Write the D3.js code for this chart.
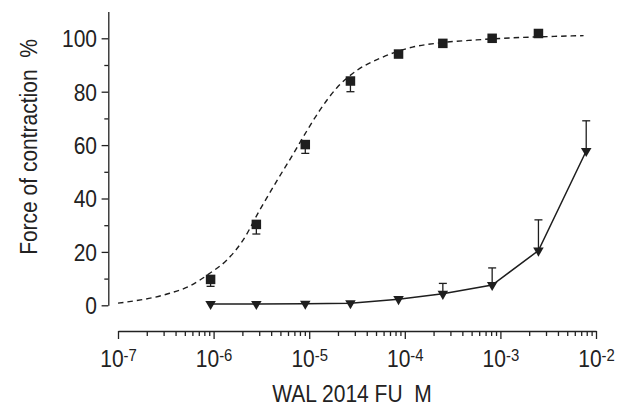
<!DOCTYPE html>
<meta charset="utf-8">
<style>
  body { margin: 0; background: #fff; }
  svg text { font-family: "Liberation Sans", Arial, Helvetica, sans-serif; fill: #222; white-space: pre; }
  .axis path, .axis line { stroke: #222; stroke-width: 1.3; fill: none; }
  .axis .tick text { font-size: 24px; }
</style>
<body>
<svg width="623" height="407"></svg>
<script src="https://d3js.org/d3.v7.min.js"></script>
<script>
  // concentrations (M)
  var conc = [9.3e-7, 2.8e-6, 9.1e-6, 2.7e-5, 8.6e-5, 2.5e-4, 8.2e-4, 2.5e-3, 7.9e-3];
  // squares (dashed fit)
  var squareMean = [9.7, 30.3, 60.2, 84.0, 94.1, 98.1, 100.0, 101.8];
  var squareErr = [2.6, 3.6, 3.3, 4.0, 0, 0, 0, 0];
  // triangles (solid line)
  var triMean = [0.5, 0.5, 0.6, 0.8, 2.3, 4.3, 7.6, 20.5, 57.8];
  var triErr = [0, 0, 0, 0, 0, 3.9, 6.4, 11.5, 11.3];
  // dashed fitted curve: log10 concentration / %
  var fitLogConc = [-7.0, -6.46, -6.25, -6.04, -5.86, -5.69, -5.52, -5.34, -5.17, -5.03, -4.89, -4.71, -4.50, -4.26, -3.92, -3.63, -3.25, -2.13];
  var fitValue = [0.8, 4.5, 7.2, 12.0, 17.0, 24.5, 35.5, 46.5, 56.5, 65.0, 73.0, 81.5, 88.0, 92.5, 96.7, 98.3, 99.4, 101.0];

  var yTicks = [0, 20, 40, 60, 80, 100];
  var yMinorTicks = [10, 30, 50, 70, 90];
  var xTicks = [1e-7, 1e-6, 1e-5, 1e-4, 1e-3, 1e-2];

  var svg = d3.select("svg");
  var ink = "#1e1e1e";

  var x = d3.scaleLog().domain([1e-7, 1e-2]).range([118, 596]);
  var y = d3.scaleLinear().domain([0, 110]).range([305.3, 11.6]);
  var xAxisY = 331;
  var yAxisX = 108.3;

  // y axis
  var gy = svg.append("g").attr("class", "axis")
    .attr("transform", "translate(" + yAxisX + ",0)");
  gy.call(d3.axisLeft(y).tickValues(yTicks).tickSize(6.7).tickSizeOuter(0));
  gy.attr("font-size", null).attr("font-family", null);
  gy.selectAll(".tick text")
    .attr("x", 0).attr("dy", "0.35em")
    .attr("transform", "translate(-11.3,0) scale(0.875,1)");

  svg.append("g").attr("class", "axis")
    .attr("transform", "translate(" + yAxisX + ",0)")
    .call(d3.axisLeft(y).tickValues(yMinorTicks).tickSize(4).tickFormat(""))
    .call(function (g) { g.select(".domain").remove(); });

  // x axis
  var gx = svg.append("g").attr("class", "axis")
    .attr("transform", "translate(0," + xAxisY + ")");
  gx.call(d3.axisBottom(x).tickValues(xTicks).tickSize(8).tickSizeOuter(0).tickFormat(""));
  gx.attr("font-size", null).attr("font-family", null);
  gx.selectAll(".tick text").each(function (d) {
    var t = d3.select(this);
    t.text(null).attr("y", 36).attr("dy", 0)
      .attr("transform", "scale(0.875,1)");
    t.append("tspan").text("10");
    t.append("tspan").attr("dy", -6).style("font-size", "17px")
      .text(Math.round(Math.log10(d)));
  });

  var minor = x.ticks().filter(function (d) {
    return xTicks.indexOf(d) < 0 && Math.abs(Math.log10(d) - Math.round(Math.log10(d))) > 1e-6;
  });
  svg.append("g").attr("class", "axis")
    .attr("transform", "translate(0," + xAxisY + ")")
    .call(d3.axisBottom(x).tickValues(minor).tickSize(5).tickFormat(""))
    .call(function (g) { g.select(".domain").remove(); });

  // axis titles
  svg.append("text")
    .attr("transform", "translate(36.5,147) rotate(-90) scale(0.875,1)")
    .attr("text-anchor", "middle")
    .style("font-size", "24px")
    .text("Force of contraction  %");

  svg.append("text")
    .attr("transform", "translate(352,401.5) scale(0.875,1)")
    .attr("text-anchor", "middle")
    .style("font-size", "24px")
    .text("WAL 2014 FU  M");

  // dashed fit
  var fitData = fitLogConc.map(function (v, i) { return { c: Math.pow(10, v), v: fitValue[i] }; });
  svg.append("path")
    .datum(fitData)
    .attr("fill", "none")
    .attr("stroke", ink)
    .attr("stroke-width", 1.4)
    .attr("stroke-dasharray", "5.5,4")
    .attr("d", d3.line()
      .x(function (d) { return x(d.c); })
      .y(function (d) { return y(d.v); })
      .curve(d3.curveMonotoneX));

  // triangle series
  var triData = triMean.map(function (v, i) { return { c: conc[i], v: v, e: triErr[i] }; });
  svg.append("path")
    .datum(triData)
    .attr("fill", "none")
    .attr("stroke", ink)
    .attr("stroke-width", 1.5)
    .attr("d", d3.line()
      .x(function (d) { return x(d.c); })
      .y(function (d) { return y(d.v); }));

  var triErrG = svg.append("g").attr("stroke", ink).attr("stroke-width", 1.3);
  triData.filter(function (d) { return d.e > 0; }).forEach(function (d) {
    var cx = x(d.c);
    triErrG.append("line").attr("x1", cx).attr("x2", cx)
      .attr("y1", y(d.v)).attr("y2", y(d.v + d.e));
    triErrG.append("line").attr("x1", cx - 4).attr("x2", cx + 4)
      .attr("y1", y(d.v + d.e)).attr("y2", y(d.v + d.e));
  });

  svg.append("g").selectAll("path")
    .data(triData)
    .enter().append("path")
    .attr("d", d3.symbol(d3.symbolTriangle, 48))
    .attr("fill", ink)
    .attr("transform", function (d) {
      return "translate(" + x(d.c) + "," + y(d.v) + ") rotate(180)";
    });

  // square series
  var sqData = squareMean.map(function (v, i) { return { c: conc[i], v: v, e: squareErr[i] }; });
  var sqErrG = svg.append("g").attr("stroke", ink).attr("stroke-width", 1.3);
  sqData.filter(function (d) { return d.e > 0; }).forEach(function (d) {
    var cx = x(d.c);
    sqErrG.append("line").attr("x1", cx).attr("x2", cx)
      .attr("y1", y(d.v)).attr("y2", y(d.v - d.e));
    sqErrG.append("line").attr("x1", cx - 4).attr("x2", cx + 4)
      .attr("y1", y(d.v - d.e)).attr("y2", y(d.v - d.e));
  });

  var sq = 9.5;
  svg.append("g").selectAll("rect")
    .data(sqData)
    .enter().append("rect")
    .attr("x", function (d) { return x(d.c) - sq / 2; })
    .attr("y", function (d) { return y(d.v) - sq / 2; })
    .attr("width", sq)
    .attr("height", sq)
    .attr("fill", ink);
</script>
</body>
